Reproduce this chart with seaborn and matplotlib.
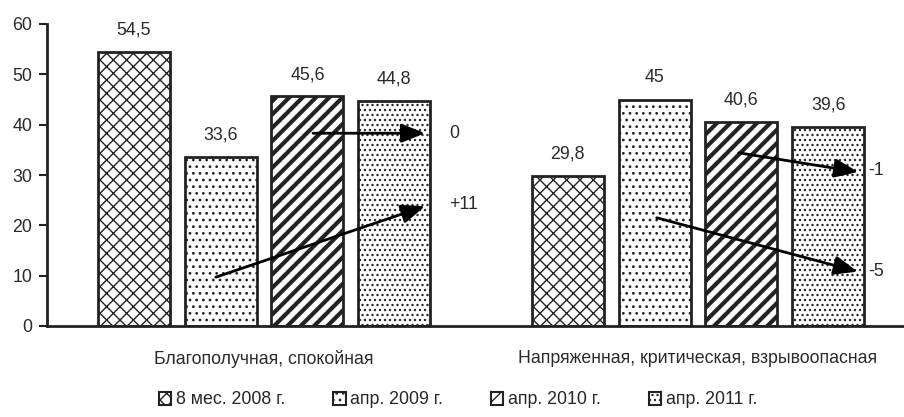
import matplotlib
matplotlib.use("Agg")
import matplotlib.pyplot as plt
import seaborn as sns
import pandas as pd
from matplotlib.patches import Patch

categories = ["Благополучная, спокойная", "Напряженная, критическая, взрывоопасная"]
periods = ["8 мес. 2008 г.", "апр. 2009 г.", "апр. 2010 г.", "апр. 2011 г."]
values = {
    "8 мес. 2008 г.": [54.5, 29.8],
    "апр. 2009 г.": [33.6, 45.0],
    "апр. 2010 г.": [45.6, 40.6],
    "апр. 2011 г.": [44.8, 39.6],
}
value_labels = {
    "8 мес. 2008 г.": ["54,5", "29,8"],
    "апр. 2009 г.": ["33,6", "45"],
    "апр. 2010 г.": ["45,6", "40,6"],
    "апр. 2011 г.": ["44,8", "39,6"],
}
yticks = [0, 10, 20, 30, 40, 50, 60]
# change arrows: (label, x_start, y_start, x_end, y_end, label_x, label_y)
arrows = [
    ("0", 0.113, 38.3, 0.371, 38.3, 0.426, 38.3),
    ("+11", -0.111, 9.7, 0.371, 23.8, 0.426, 24.2),
    ("-1", 1.094, 34.4, 1.369, 30.6, 1.392, 30.8),
    ("-5", 0.905, 21.5, 1.368, 10.8, 1.392, 10.8),
]
hatches = ["xxx", "...", "///", "...."]

rows = []
for p in periods:
    for c, v in zip(categories, values[p]):
        rows.append({"cat": c, "period": p, "value": v})
df = pd.DataFrame(rows)

DPI = 120
S = 100 / DPI  # sizes below are tuned in 100-dpi points
FS = 12.8 * S
TXT = "#2a2a2a"

sns.set_theme(style="white")
plt.rcParams["font.family"] = ["Liberation Sans", "DejaVu Sans"]
plt.rcParams["hatch.linewidth"] = 1.0 * S
plt.rcParams["hatch.color"] = "#333333"

fig = plt.figure(figsize=(904 / DPI, 417 / DPI), dpi=DPI)
ax = fig.add_axes([47 / 904, 1 - 326 / 417, (904 - 47) / 904, (326 - 24) / 417])

sns.barplot(data=df, x="cat", y="value", hue="period", order=categories,
            hue_order=periods, width=0.8, gap=0.17, ax=ax, legend=False,
            palette=["white"] * 4, edgecolor="#222222",
            linewidth=2.0 * S)

for i, cont in enumerate(ax.containers):
    p = periods[i]
    for j, bar in enumerate(cont):
        bar.set_hatch(hatches[i])
        bar.set_facecolor("white")
        if i == 2 and hasattr(bar, "set_hatch_linewidth"):
            bar.set_hatch_linewidth(3.0 * S)
        ax.text(bar.get_x() + bar.get_width() / 2, bar.get_height() + 3.4,
                value_labels[p][j], ha="center", va="baseline", fontsize=FS,
                color=TXT)

for lab, x0, y0, x1, y1, lx, ly in arrows:
    ax.annotate("", xy=(x1, y1), xytext=(x0, y0),
                arrowprops=dict(arrowstyle="-|>,head_length=1.0,head_width=0.4",
                                color="black", lw=2.0 * S, shrinkA=0, shrinkB=0))
    ax.text(lx, ly, lab, ha="left", va="center", fontsize=FS, color=TXT)

ax.set_xlim(-0.5, (904 - 264) / 434)
ax.set_ylim(0, 60)
ax.set_yticks(yticks)
ax.set_yticklabels([str(t) for t in yticks], fontsize=FS, color=TXT)
ax.set_xticks([0, 1])
ax.set_xticklabels(categories, fontsize=FS, color=TXT)
ax.set_xticks([-0.5, 0.5], minor=True)
ax.tick_params(axis="x", which="major", length=0, pad=17.5 * S)
ax.tick_params(axis="x", which="minor", length=6 * S, width=1.5 * S, direction="out", color="#222222")
ax.tick_params(axis="y", length=6 * S, width=1.5 * S, direction="out", color="#222222", left=True, pad=4.5 * S)
ax.set_xlabel("")
ax.set_ylabel("")
for s in ["top", "right"]:
    ax.spines[s].set_visible(False)
for s in ["left", "bottom"]:
    ax.spines[s].set_color("#222222")
    ax.spines[s].set_linewidth(2.0 * S)

handles = [Patch(facecolor="white", edgecolor="#222222", hatch=h, linewidth=1.5 * S) for h in hatches]
fig.legend(handles, periods, loc="center", bbox_to_anchor=(458 / 904, 1 - 400 / 417),
           ncol=4, frameon=False, fontsize=FS, handlelength=0.7, handleheight=0.7,
           handletextpad=0.25, columnspacing=2.7)

fig.savefig("out.png", dpi=DPI)
